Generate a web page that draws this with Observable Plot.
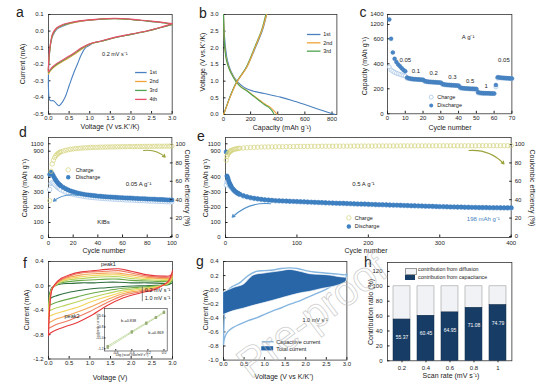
<!DOCTYPE html>
<html><head><meta charset="utf-8">
<script src="https://cdn.jsdelivr.net/npm/d3@7"></script>
<script src="https://cdn.jsdelivr.net/npm/@observablehq/plot@0.6"></script>
<style>
body{margin:0;background:#fff;}
#fig{position:relative;width:548px;height:392px;overflow:hidden;font-family:"Liberation Sans",Arial,sans-serif;color:#222;background:#fff;}
#fig svg{position:absolute;overflow:visible;}
.t{position:absolute;white-space:nowrap;line-height:1;}
.sw{position:absolute;width:10px;height:5px;}
</style></head><body><div id="fig"></div>
<script>
// ================= DATA =================
// (a) CV, first four cycles, 0.2 mV/s
const aCycles = ["1st","2nd","3rd","4th"];
const a1V = [3.0,2.7,2.4,2.0,1.6,1.3,1.1,1.0,0.9,0.8,0.7,0.6,0.5,0.4,0.3,0.25,0.2,0.12,0.05,0.02,0.0,0.0,0.02,0.05,0.1,0.2,0.35,0.5,0.8,1.2,1.6,2.0,2.4,2.8,3.0];
const a1I = [0.04,0.02,0.0,-0.02,-0.04,-0.06,-0.07,-0.085,-0.1,-0.14,-0.2,-0.26,-0.33,-0.4,-0.44,-0.45,-0.44,-0.42,-0.42,-0.41,-0.35,-0.25,-0.15,-0.08,-0.03,0.01,0.03,0.045,0.06,0.07,0.075,0.07,0.06,0.05,0.04];
const aV  = [3.0,2.7,2.4,2.0,1.6,1.3,1.0,0.8,0.6,0.4,0.2,0.1,0.03,0.0,0.0,0.02,0.05,0.1,0.2,0.35,0.5,0.8,1.2,1.6,2.0,2.4,2.8,3.0];
const a2I = [0.04,0.02,0.0,-0.02,-0.04,-0.06,-0.08,-0.11,-0.145,-0.175,-0.205,-0.225,-0.245,-0.26,-0.22,-0.15,-0.08,-0.025,0.015,0.035,0.045,0.06,0.07,0.075,0.07,0.06,0.05,0.04];
const a3I = [0.04,0.02,0.0,-0.02,-0.04,-0.06,-0.078,-0.105,-0.14,-0.17,-0.2,-0.22,-0.24,-0.25,-0.21,-0.14,-0.075,-0.02,0.018,0.037,0.047,0.062,0.071,0.076,0.07,0.06,0.05,0.04];
const a4I = [0.045,0.022,0.002,-0.018,-0.038,-0.058,-0.076,-0.1,-0.135,-0.165,-0.195,-0.215,-0.235,-0.245,-0.2,-0.13,-0.07,-0.015,0.02,0.04,0.05,0.063,0.072,0.077,0.072,0.062,0.052,0.045];

// (b) charge/discharge profiles
const b1DisC = [0,5,15,30,55,90,130,170,220,300,420,500,620,700,790,822];
const b1DisV = [3.0,2.5,2.0,1.6,1.3,1.05,0.88,0.77,0.7,0.63,0.52,0.43,0.27,0.16,0.04,0.0];
const b1ChC  = [0,12,45,95,170,235,285,318];
const b1ChV  = [0,0.12,0.5,0.95,1.42,2.0,2.5,3.0];
const b2DisC = [0,5,12,25,49,75,98,130,172,220,270,310,344,375,395];
const b3DisC = [0,4,11,23,46,72,95,127,168,215,262,300,332,360,372];
const bDisV  = [3.0,2.4,1.92,1.6,1.32,1.12,0.97,0.83,0.72,0.57,0.42,0.3,0.22,0.1,0.0];
const b2ChC  = [0,12,49,98,172,234,283,318];
const b3ChC  = [0,11,47,95,168,230,280,312];
const bChV   = [0,0.12,0.52,0.97,1.42,2.02,2.52,3.0];

// (c) rate performance
const cCycle = d3.range(1, 71);
const cDis = [1300,600,490,440,415,395,380,365,350,340,
  290,284,281,279,277,276,275,274,273,272,
  262,258,256,255,254,253,252,251,250,249,
  238,234,232,231,230,229,228,227,226,225,
  210,206,204,203,202,201,200,200,199,198,
  172,168,166,165,165,164,164,163,163,162,
  230,292,290,288,287,286,285,284,283,282];
const cCh = [375,350,340,332,325,320,315,310,306,302,
  284,281,279,277,276,275,274,273,272,271,
  258,256,255,254,253,252,251,250,249,248,
  234,232,231,230,229,228,227,226,225,224,
  205,203,202,201,200,200,199,198,198,197,
  167,165,164,164,163,163,162,162,161,161,
  215,285,288,287,286,285,284,283,282,281];
const cRates = ["0.05","0.1","0.2","0.3","0.5","1","0.05"];

// (d) cycling at 0.05 A/g
const dCycle = [1,2,3,4,5,6,7,8,9,10,12,14,16,18,20,22,24,26,28,30,32,34,36,38,40,42,44,46,48,50,52,54,56,58,60,62,64,66,68,70,72,74,76,78,80,82,84,86,88,90,92,94,96,98,100];
const dDis = [420,435,425,410,395,382,370,360,352,345,
  334,325,317,310,305,300,296,292,289,286,284,282,280,278,276,275,273,272,271,270,
  269,268,267,266,265,264,263,263,262,261,260,259,259,258,257,256,256,255,254,253,253,252,251,250,250];
const dCh = [320,360,365,360,352,344,336,330,324,318,
  310,303,297,292,288,284,281,278,275,272,270,268,266,265,263,262,260,259,258,257,
  256,255,254,253,252,251,250,250,249,248,247,246,246,245,244,243,243,242,241,240,240,239,238,238,237];
const dCE = [40,72,80,84,87,89,90.5,91.5,92.5,93.2,
  94,94.8,95.4,95.9,96.3,96.6,96.9,97.1,97.3,97.5,97.6,97.8,97.9,98,98.1,98.2,98.2,98.3,98.4,98.4,
  98.5,98.5,98.6,98.6,98.7,98.7,98.8,98.8,98.8,98.9,98.9,98.9,99,99,99,99.1,99.1,99.1,99.2,99.2,99.2,99.2,99.3,99.3,99.3];

// (e) long cycling at 0.5 A/g
const eCycle = [1,2,3,4,5,6,7,8,10,12,14,16,18,20,25,30,35,40,45,50,55,60,65,70,75,80,85,90,95,100,
  105,110,115,120,125,130,135,140,145,150,155,160,165,170,175,180,185,190,195,200,
  205,210,215,220,225,230,235,240,245,250,255,260,265,270,275,280,285,290,295,300,
  305,310,315,320,325,330,335,340,345,350,355,360,365,370,375,380,385,390,395,400];
const eDis = [880,410,400,385,370,358,348,340,326,315,306,299,293,288,
  279,272,266,262,258,255,252,250,248,246,245,244,243,242,241,240,
  239,238,237,236,235,234,233,232,231,230,229,228,228,227,226,225,224,223,223,222,
  221,220,219,219,218,217,216,216,215,214,213,212,212,211,210,209,209,208,207,206,
  206,205,204,204,203,203,202,202,201,201,200,200,200,199,199,199,198,198,198,198];
const eCh = [350,372,368,362,354,346,339,333,321,311,303,296,290,286,
  276,270,264,259,256,252,250,247,246,244,243,242,241,240,239,238,
  237,236,235,234,233,232,231,230,229,228,227,227,226,225,224,223,222,222,221,220,
  219,218,218,217,216,215,215,214,213,212,212,211,210,209,209,208,207,206,206,205,
  204,204,203,202,202,201,201,200,200,199,199,198,198,198,197,197,197,196,196,196];
const eCE = [84,88,90,91.5,92.5,93.5,94,94.5,95.2,95.8,96.2,96.5,96.8,97,
  97.3,97.6,97.8,98,98.1,98.3,98.4,98.5,98.5,98.6,98.7,98.7,98.8,98.8,98.9,98.9,
  99,99,99,99.1,99.1,99.1,99.2,99.2,99.2,99.2,99.3,99.3,99.3,99.3,99.3,99.4,99.4,99.4,99.4,99.4,
  99.4,99.5,99.5,99.5,99.5,99.5,99.5,99.5,99.6,99.6,99.6,99.6,99.6,99.6,99.6,99.6,99.6,99.6,99.7,99.7,
  99.7,99.7,99.7,99.7,99.7,99.7,99.7,99.7,99.7,99.7,99.8,99.8,99.8,99.8,99.8,99.8,99.8,99.8,99.8,99.8];

// (f) CV at different scan rates
const fRates = ["0.2","0.3","0.4","0.5","0.6","0.8","1.0"];
const fUpV = [0,0.03,0.08,0.15,0.3,0.5,0.8,1.1,1.4,1.7,2.0,2.4,2.8,2.95,3.0];
const fUpI = [
  [-0.25,-0.12,-0.03,0.0,0.03,0.04,0.05,0.05,0.06,0.06,0.05,0.05,0.04,0.04,0.05],
  [-0.34,-0.15,-0.04,0.0,0.05,0.07,0.09,0.1,0.11,0.11,0.09,0.08,0.07,0.07,0.09],
  [-0.43,-0.19,-0.05,0.0,0.06,0.1,0.12,0.14,0.15,0.15,0.12,0.1,0.09,0.09,0.12],
  [-0.52,-0.23,-0.05,0.01,0.08,0.12,0.15,0.17,0.18,0.18,0.15,0.12,0.11,0.11,0.15],
  [-0.61,-0.27,-0.06,0.01,0.09,0.14,0.18,0.2,0.21,0.21,0.18,0.14,0.12,0.13,0.18],
  [-0.71,-0.31,-0.06,0.01,0.1,0.16,0.21,0.23,0.24,0.25,0.21,0.16,0.14,0.15,0.21],
  [-0.82,-0.36,-0.07,0.02,0.12,0.18,0.23,0.25,0.27,0.28,0.24,0.18,0.16,0.17,0.25]];
const fLoV = [3.0,2.9,2.6,2.2,1.8,1.4,1.0,0.7,0.4,0.2,0.08,0.02,0];
const fLoI = [
  [0.05,0.02,0.01,0.0,-0.01,-0.03,-0.05,-0.08,-0.12,-0.16,-0.19,-0.22,-0.25],
  [0.09,0.03,0.0,-0.02,-0.04,-0.08,-0.13,-0.18,-0.23,-0.27,-0.3,-0.32,-0.34],
  [0.12,0.04,-0.01,-0.04,-0.07,-0.13,-0.2,-0.26,-0.32,-0.36,-0.39,-0.41,-0.43],
  [0.15,0.05,-0.02,-0.06,-0.1,-0.18,-0.27,-0.35,-0.41,-0.45,-0.48,-0.5,-0.52],
  [0.18,0.06,-0.03,-0.08,-0.13,-0.23,-0.35,-0.43,-0.5,-0.54,-0.58,-0.6,-0.61],
  [0.21,0.07,-0.04,-0.1,-0.16,-0.28,-0.42,-0.51,-0.59,-0.63,-0.67,-0.69,-0.71],
  [0.25,0.08,-0.05,-0.12,-0.2,-0.33,-0.5,-0.6,-0.67,-0.72,-0.76,-0.79,-0.82]];
// inset: log(peak current) vs log(scan rate)
const insLogV = [-0.7,-0.4,-0.22,-0.1,0];
const insPeak1 = [-1.18,-0.9,-0.74,-0.63,-0.54];
const insPeak2 = [-1.15,-0.88,-0.72,-0.62,-0.52];

// (g) capacitive vs total current at 1.0 mV/s
const gCapV  = [0,0.04,0.28,0.49,0.73,1.0,1.38,1.62,1.9,2.11,2.4,2.6,2.8,2.96,3.0];
const gCapHi = [-0.04,-0.03,0.03,0.07,0.2,0.23,0.26,0.28,0.25,0.22,0.21,0.2,0.18,0.17,0.17];
const gCapLo = [-0.36,-0.35,-0.3,-0.27,-0.23,-0.19,-0.13,-0.09,-0.05,-0.03,0.01,0.03,0.06,0.1,0.13];
const gTotV = [0,0.03,0.1,0.2,0.4,0.6,0.8,1.0,1.2,1.4,1.6,1.8,2.0,2.2,2.4,2.6,2.8,2.95,3.0,2.95,2.8,2.6,2.4,2.2,2.0,1.8,1.6,1.4,1.2,1.0,0.8,0.6,0.4,0.2,0.1,0.03,0];
const gTotI = [-0.78,-0.3,-0.02,0.04,0.1,0.2,0.26,0.27,0.28,0.3,0.31,0.3,0.27,0.25,0.24,0.23,0.22,0.21,0.22,0.15,0.1,0.04,-0.02,-0.07,-0.12,-0.17,-0.21,-0.26,-0.3,-0.35,-0.4,-0.44,-0.49,-0.55,-0.6,-0.68,-0.78];

// (h) contribution ratio
const hRates = ["0.2","0.4","0.6","0.8","1"];
const hCap = [55.37,60.45,64.95,71.08,74.79];

// ================= HELPERS =================
const fig = document.getElementById("fig");
const FONT = "Liberation Sans, Arial, Helvetica, sans-serif";
const f1 = d => d.toFixed(1);
const f0 = d => String(d);
const AX = {tickSize:-2.5, tickPadding:4.5, label:null, fontSize:6, tickFormat:f0};
const AY = {tickSize:-2.5, tickPadding:7.5, label:null, fontSize:6, tickFormat:f0};
const FR = () => Plot.frame({stroke:"#333", strokeWidth:0.8});
function place(frame, m, opts) {
  const [L,T,R,B] = frame;
  const svg = Plot.plot({
    width: R-L+m.l+m.r, height: B-T+m.t+m.b,
    marginLeft:m.l, marginTop:m.t, marginRight:m.r, marginBottom:m.b,
    style:{fontSize:"6px", fontFamily:FONT, background:"transparent", color:"#222", overflow:"visible"},
    ...opts
  });
  svg.style.position = "absolute";
  svg.style.left = (L-m.l)+"px";
  svg.style.top = (T-m.t)+"px";
  fig.appendChild(svg);
  return svg;
}
// page-pixel y positions -> svg-relative range for piecewise (broken) axes
const rel = (arr, frame, m) => arr.map(p => p - frame[1] + m.t);
function lab(txt, x, y, o = {}) {
  const d = document.createElement("div");
  d.className = "t"; d.textContent = txt;
  d.style.left = x+"px"; d.style.top = y+"px";
  d.style.fontSize = (o.size || 7)+"px";
  d.style.transform = `translate(-50%,-50%) rotate(${o.rot||0}deg)`;
  if (o.color) d.style.color = o.color;
  fig.appendChild(d); return d;
}
const M = {l:34, t:4, r:6, b:12};
const cyc4 = ["#4a80bf","#f0a33a","#4fa24f","#e8506a"];

// ================= (a) =================
{
  const data = [
    ...a1V.map((v,i)=>({s:"1st",V:v,I:a1I[i]})),
    ...aV.map((v,i)=>({s:"2nd",V:v,I:a2I[i]})),
    ...aV.map((v,i)=>({s:"3rd",V:v,I:a3I[i]})),
    ...aV.map((v,i)=>({s:"4th",V:v,I:a4I[i]}))];
  const leg = aCycles.map((s,i)=>({s, y:-0.25-i*0.054}));
  place([48.3,14,172,113.5], M, {
    x:{domain:[0,3]}, y:{domain:[-0.5,0.1]},
    color:{domain:aCycles, range:cyc4},
    marks:[
      FR(),
      Plot.axisX({...AX, ticks:[0,0.5,1,1.5,2,2.5,3], tickFormat:f1}),
      Plot.axisY({...AY, ticks:[-0.5,-0.4,-0.3,-0.2,-0.1,0,0.1], tickFormat:f1}),
      Plot.line(data,{x:"V",y:"I",z:"s",stroke:"s",strokeWidth:1.1,curve:"catmull-rom"}),
      Plot.link(leg,{x1:()=>2.1,x2:()=>2.38,y1:"y",y2:"y",stroke:"s",strokeWidth:1.3}),
      Plot.text(leg,{x:()=>2.45,y:"y",text:"s",textAnchor:"start",fontSize:5.5}),
      Plot.text([{x:1.3,y:-0.142,t:"0.2 mV s⁻¹"}],{x:"x",y:"y",text:"t",textAnchor:"start",fontSize:5.5})
    ]
  });
  lab("a", 20, 12, {size:14});
  lab("Voltage (V vs.K⁺/K)", 110, 126);
  lab("Current (mA)", 22, 64, {rot:-90});
}

// ================= (b) =================
{
  const mk = (C,V,s,z) => C.map((c,i)=>({c, v:V[i], s, z}));
  const data = [
    ...mk(b1DisC,b1DisV,"1st","1d"), ...mk(b1ChC,b1ChV,"1st","1c"),
    ...mk(b3ChC,bChV,"3rd","3c"), ...mk(b2DisC,bDisV,"2nd","2d"),
    ...mk(b3DisC,bDisV,"3rd","3d"), ...mk(b2ChC,bChV,"2nd","2c")];
  const leg = aCycles.slice(0,3).map((s,i)=>({s, y:2.4-i*0.25}));
  place([223.3,14,336.7,114], M, {
    x:{domain:[0,836]}, y:{domain:[0,3]},
    color:{domain:aCycles.slice(0,3), range:cyc4.slice(0,3)},
    marks:[
      FR(),
      Plot.axisX({...AX, ticks:[0,200,400,600,800]}),
      Plot.axisY({...AY, ticks:[0,0.5,1,1.5,2,2.5,3], tickFormat:f1}),
      Plot.line(data,{x:"c",y:"v",z:"z",stroke:"s",strokeWidth:1.1,curve:"catmull-rom"}),
      Plot.link(leg,{x1:()=>615,x2:()=>715,y1:"y",y2:"y",stroke:"s",strokeWidth:1.3}),
      Plot.text(leg,{x:()=>735,y:"y",text:"s",textAnchor:"start",fontSize:5.5})
    ]
  });
  lab("b", 203, 13, {size:14});
  lab("Capacity (mAh g⁻¹)", 282, 127);
  lab("Voltage (V vs.K⁺/K)", 202, 62, {rot:-90});
}

// ================= (c) =================
{
  const fr = [387.3,14,511.7,113.3];
  const data = cCycle.map((n,i)=>({n, dis:cDis[i], ch:cCh[i]}));
  const rl = [{x:10,y:426},{x:16,y:338},{x:26,y:322},{x:36.5,y:290},{x:46.5,y:258},{x:55.5,y:218},{x:65.5,y:426}]
    .map((p,i)=>({...p, t:cRates[i]}));
  place(fr, M, {
    x:{domain:[0,70]},
    y:{type:"linear", domain:[0,680,1150,1400], range:rel([113.3,28.3,26.5,14], fr, M)},
    marks:[
      FR(),
      Plot.axisX({...AX, ticks:[0,10,20,30,40,50,60,70]}),
      Plot.axisY({...AY, tickPadding:6.5, ticks:[0,200,400,600,1200,1400]}),
      Plot.dot(data,{x:"n",y:"ch",r:2,stroke:"#9dbfe2",fill:"white",strokeWidth:0.7}),
      Plot.dot(data,{x:"n",y:"dis",r:2,fill:"#4a87c7",stroke:"#3a74b0",strokeWidth:0.4}),
      Plot.text(rl,{x:"x",y:"y",text:"t",fontSize:6}),
      Plot.text([{x:45.4,y:613,t:"A g⁻¹"}],{x:"x",y:"y",text:"t",fontSize:6}),
      Plot.dot([{x:24.6,y:133}],{x:"x",y:"y",r:2,stroke:"#9dbfe2",fill:"white",strokeWidth:0.7}),
      Plot.dot([{x:24.6,y:66}],{x:"x",y:"y",r:2,fill:"#4a87c7"}),
      Plot.text([{x:28,y:133,t:"Charge"},{x:28,y:66,t:"Discharge"}],{x:"x",y:"y",text:"t",textAnchor:"start",fontSize:5.5})
    ]
  });
  lab("c", 363, 12, {size:14});
  lab("Cycle number", 450, 127);
  lab("Capacity (mAh g⁻¹)", 364, 66, {rot:-90});
}

// ================= (d) and (e) =================
function cycPanel(fr, cyc, dis, ch, ce, xmax, xticks, mRight, notes, arrows) {
  const m = {l:34, t:4, r:mRight, b:12};
  const data = cyc.map((n,i)=>({n, dis:dis[i], ch:ch[i], ce:ce[i]}));
  place(fr, m, {
    x:{domain:[0,xmax]},
    y:{type:"linear", domain:[0,500,850,1270], range:rel([237,162,152.55,137], fr, m)},
    marks:[
      FR(),
      Plot.axisX({...AX, tickPadding:5.5, ticks:xticks}),
      Plot.axisY({...AY, ticks:[0,100,200,300,400,900,1100]}),
      Plot.dot(data,{x:"n",y:"ch",r:2.2,stroke:"#9fc2e6",fill:"white",strokeWidth:0.7}),
      Plot.dot(data,{x:"n",y:"dis",r:2.2,fill:"#3f82c4",stroke:"#2f6fb0",strokeWidth:0.4}),
      Plot.arrow([arrows.blue],{x1:"x1",y1:"y1",x2:"x2",y2:"y2",bend:-25,stroke:"#4f8fc9",strokeWidth:1.1,headLength:4}),
      Plot.dot([notes.leg[0]],{x:"x",y:"y",r:2.2,stroke:"#d4d27c",fill:"white",strokeWidth:0.7}),
      Plot.dot([notes.leg[1]],{x:"x",y:"y",r:2.2,fill:"#3f82c4"}),
      Plot.text(notes.leg,{x:"tx",y:"y",text:"t",textAnchor:"start",fontSize:5.5}),
      Plot.text(notes.text,{x:"x",y:"y",text:"t",fill:"c",fontSize:6})
    ]
  });
  place(fr, m, {
    x:{domain:[0,xmax], axis:null}, y:{domain:[0,108.7]},
    marks:[
      Plot.axisY({anchor:"right", ticks:[0,20,40,60,80,100], tickFormat:f0, tickSize:-2.5, tickPadding:6, label:null, fontSize:6, dy:-1}),
      Plot.dot(data,{x:"n",y:"ce",r:2.2,stroke:"#d4d27c",fill:"none",strokeWidth:0.7}),
      Plot.arrow([arrows.green],{x1:"x1",y1:"y1",x2:"x2",y2:"y2",bend:25,stroke:"#9aa23a",strokeWidth:1.1,headLength:4})
    ]
  });
}
cycPanel([48.3,137,171.7,237], dCycle, dDis, dCh, dCE, 100, [0,20,40,60,80,100], 8,
  {leg:[{x:16,tx:22,y:451,t:"Charge"},{x:16,tx:22,y:402,t:"Discharge"}],
   text:[{x:73,y:358,t:"0.05 A g⁻¹",c:"#222"},{x:44.6,y:102,t:"KIBs",c:"#222"}]},
  {blue:{x1:24,y1:280,x2:4,y2:242}, green:{x1:77,y1:94.6,x2:94.6,y2:87.3}});
cycPanel([225,137,510.7,237], eCycle, eDis, eCh, eCE, 400, [0,100,200,300,400], 14,
  {leg:[{x:172.7,tx:181,y:131,t:"Charge"},{x:172.7,tx:181,y:73,t:"Discharge"}],
   text:[{x:193,y:358,t:"0.5 A g⁻¹",c:"#222"},{x:361,y:125,t:"198 mAh g⁻¹",c:"#3f7fc0"}]},
  {blue:{x1:63,y1:225,x2:9.4,y2:135}, green:{x1:341,y1:94.6,x2:390,y2:80}});
lab("d", 23, 132, {size:14});
lab("Cycle number", 104, 249.5);
lab("Capacity (mAh g⁻¹)", 24, 188, {rot:-90});
lab("Coulombic efficiency (%)", 187, 188, {rot:90});
lab("e", 201, 136, {size:14});
lab("Cycle number", 366, 249.5);
lab("Capacity (mAh g⁻¹)", 205, 188, {rot:-90});
lab("Coulombic efficiency (%)", 532, 188, {rot:90});

// ================= (f) =================
{
  const fColors = ["#2f6f3e","#6aaa48","#b9d35c","#f2d45a","#f3a657","#ef7a5e","#e5383b"];
  const data = fRates.flatMap((r,k)=>[
    ...fUpV.map((v,i)=>({r, V:v, I:fUpI[k][i]})),
    ...fLoV.slice(1).map((v,i)=>({r, V:v, I:fLoI[k][i+1]}))]);
  place([48.3,261,172.3,358.5], M, {
    x:{domain:[0,3]}, y:{domain:[-1.2,0.4]},
    color:{domain:fRates, range:fColors},
    marks:[
      FR(),
      Plot.axisX({...AX, ticks:[0,0.5,1,1.5,2,2.5,3], tickFormat:f1}),
      Plot.axisY({...AY, ticks:[-1.2,-0.8,-0.4,0,0.4], tickFormat:f1}),
      Plot.line(data,{x:"V",y:"I",z:"r",stroke:"r",strokeWidth:1.1,curve:"catmull-rom"}),
      Plot.text([{x:1.45,y:0.36,t:"peak1"},{x:0.57,y:-0.49,t:"peak2"}],{x:"x",y:"y",text:"t",fontSize:5.5}),
      Plot.ruleX([{x:2.27}],{x:"x",y1:()=>-0.02,y2:()=>-0.26,stroke:"#333",strokeWidth:0.6}),
      Plot.text([{x:2.33,y:-0.075,t:"0.2 mV s⁻¹"},{x:2.33,y:-0.21,t:"1.0 mV s⁻¹"}],{x:"x",y:"y",text:"t",textAnchor:"start",fontSize:5.5})
    ]
  });
  const ins = [
    ...insLogV.map((v,i)=>({k:"p1", x:v, y:insPeak1[i]})),
    ...insLogV.map((v,i)=>({k:"p2", x:v, y:insPeak2[i]}))];
  place([104,307.5,166.7,350], {l:8,t:1,r:2,b:6}, {
    x:{domain:[-0.74,0.04]}, y:{domain:[-1.24,-0.46]},
    marks:[
      Plot.frame({fill:"white", stroke:"#333", strokeWidth:0.6}),
      Plot.axisX({ticks:[-0.6,-0.4,-0.2,0], tickFormat:f1, tickSize:-1.5, tickPadding:2.2, label:null, fontSize:3.3}),
      Plot.axisY({ticks:[-1.2,-1.0,-0.8,-0.6], tickFormat:f1, tickSize:-1.5, tickPadding:2.5, label:null, fontSize:3.3}),
      Plot.line(ins,{x:"x",y:"y",z:"k",stroke:"#b5d38f",strokeWidth:0.8,strokeDasharray:"2,1"}),
      Plot.dot(ins,{x:"x",y:"y",symbol:"square",r:1.3,fill:"#98ad78"}),
      Plot.text([{x:-0.44,y:-0.685,t:"b₁=0.838"},{x:-0.1,y:-0.9,t:"b₂=0.869"}],{x:"x",y:"y",text:"t",fontSize:3.8})
    ]
  });
  lab("Log (scan rate/mV s⁻¹)", 132, 356.3, {size:3.3});
  lab("log(peak current)", 98.5, 326, {size:3.3, rot:-90});
  lab("f", 25, 263, {size:14});
  lab("Voltage (V)", 110, 377);
  lab("Current (mA)", 26, 310, {rot:-90});
}

// ================= (g) =================
{
  const cap = gCapV.map((v,i)=>({V:v, lo:gCapLo[i], hi:gCapHi[i]}));
  const tot = gTotV.map((v,i)=>({V:v, I:gTotI[i]}));
  place([223.3,260.7,346.7,359.3], M, {
    x:{domain:[0,3]}, y:{domain:[-1.0,0.4]},
    marks:[
      FR(),
      Plot.axisX({...AX, ticks:[0,0.5,1,1.5,2,2.5,3], tickFormat:f1}),
      Plot.axisY({...AY, ticks:[-1,-0.8,-0.6,-0.4,-0.2,0,0.2,0.4], tickFormat:f1}),
      Plot.line(tot,{x:"V",y:"I",stroke:"#86b6df",strokeWidth:1.4,curve:"catmull-rom"}),
      Plot.areaY(cap,{x:"V",y1:"lo",y2:"hi",fill:"#2866a8",stroke:"white",strokeWidth:0.7,curve:"catmull-rom"}),
      Plot.text([{x:2.23,y:-0.44,t:"1.0 mV s⁻¹"}],{x:"x",y:"y",text:"t",fontSize:5.5}),
      Plot.link([{x1:0.93,x2:1.22,y:-0.74}],{x1:"x1",x2:"x2",y1:"y",y2:"y",stroke:"#86b6df",strokeWidth:1.4}),
      Plot.rect([{x1:0.93,x2:1.22,y1:-0.81,y2:-0.87}],{x1:"x1",x2:"x2",y1:"y1",y2:"y2",fill:"#2866a8"}),
      Plot.text([{x:1.28,y:-0.74,t:"Capacitive current"},{x:1.28,y:-0.84,t:"Total current"}],{x:"x",y:"y",text:"t",textAnchor:"start",fontSize:5.5})
    ]
  });
  lab("g", 200, 261, {size:14});
  lab("Voltage (V vs K/K⁺)", 284, 376);
  lab("Current (mA)", 205, 310, {rot:-90});
}

// ================= (h) =================
{
  const data = hRates.map((r,i)=>({r, cap:hCap[i], t:hCap[i].toFixed(2)}));
  place([387.3,261.7,511.7,360], M, {
    x:{domain:hRates, paddingInner:0.3, paddingOuter:0.15}, y:{domain:[0,132]},
    marks:[
      FR(),
      Plot.axisX({tickSize:2, tickPadding:2.5, label:null, fontSize:6}),
      Plot.axisY({...AY, ticks:[0,20,40,60,80,100,120]}),
      Plot.barY(data,{x:"r",y1:"cap",y2:()=>100,fill:"#f1f2f5",stroke:"#8a8a8a",strokeWidth:0.5}),
      Plot.barY(data,{x:"r",y1:()=>0,y2:"cap",fill:"#173d66",stroke:"#0f2a48",strokeWidth:0.5}),
      Plot.text(data,{x:"r",y:"cap",text:"t",dy:18,fill:"white",fontSize:5})
    ]
  });
  const s1 = document.createElement("div"); s1.className="sw";
  Object.assign(s1.style,{left:"405px",top:"267.5px",background:"#f1f2f5",border:"0.5px solid #999"});
  const s2 = document.createElement("div"); s2.className="sw";
  Object.assign(s2.style,{left:"405px",top:"275px",background:"#173d66"});
  fig.appendChild(s1); fig.appendChild(s2);
  const t1 = lab("contribution from diffusion", 418, 270, {size:5.3}); t1.style.transform="translate(0,-50%)";
  const t2 = lab("contribution from capacitance", 418, 277.5, {size:5.3}); t2.style.transform="translate(0,-50%)";
  lab("h", 368, 262, {size:14});
  lab("Scan rate (mV s⁻¹)", 451, 375);
  lab("Contribution ratio (%)", 370, 312, {rot:-90});
}

// watermark
{
  const wm = lab("Pre-proof", 312, 316, {size:42, rot:-37});
  wm.style.color = "transparent";
  wm.style.webkitTextStroke = "0.8px rgba(185,185,185,0.7)";
  wm.style.zIndex = 10;
}
</script></body></html>
